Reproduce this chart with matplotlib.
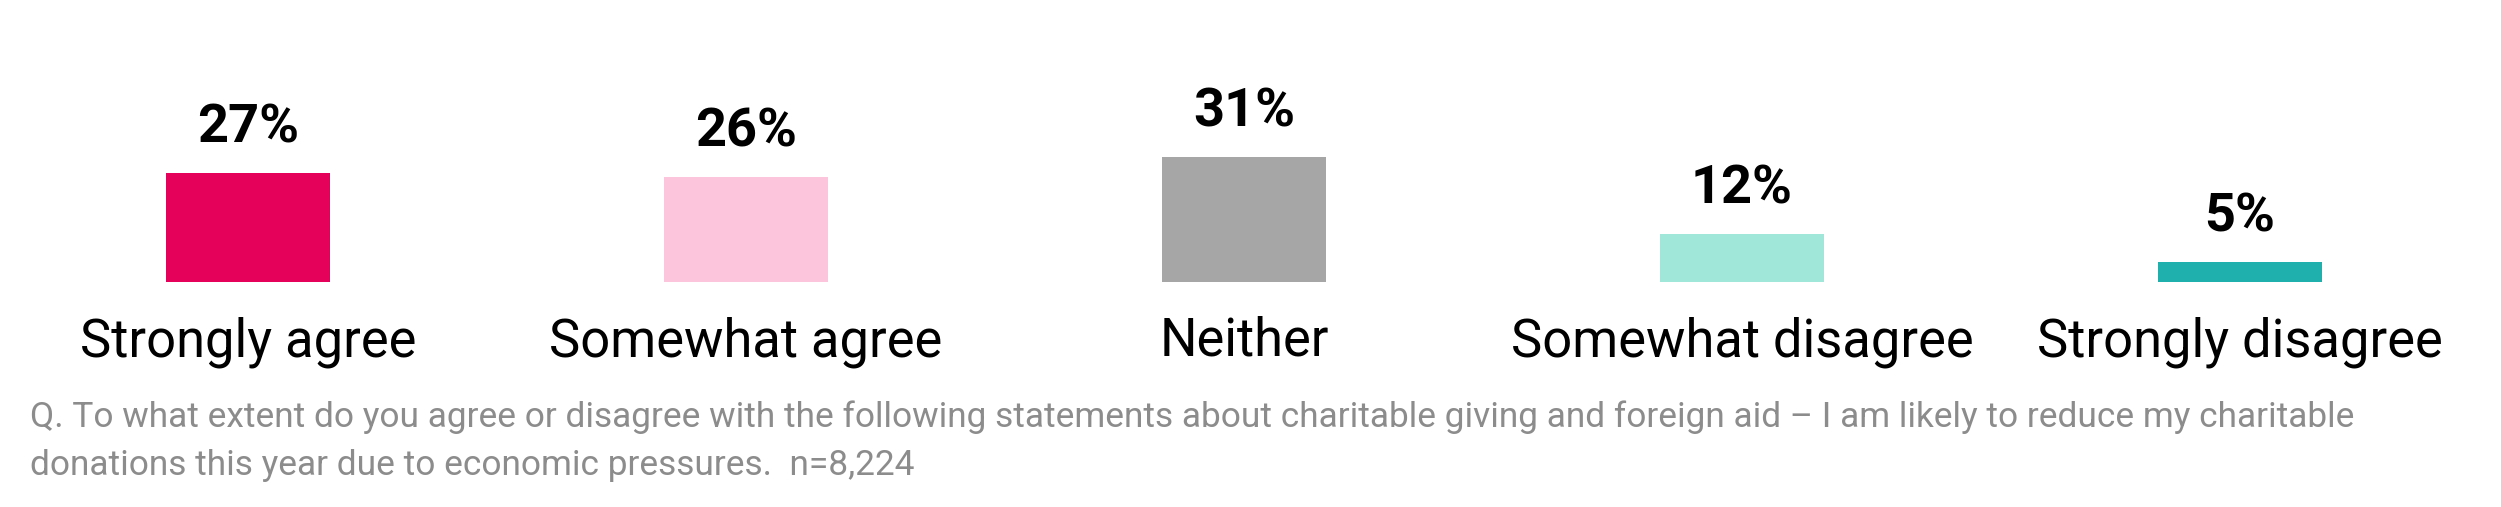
import matplotlib
matplotlib.use("Agg")
import matplotlib.pyplot as plt
import matplotlib.transforms as mtransforms

# Chart data
categories = ["Strongly agree", "Somewhat agree", "Neither", "Somewhat disagree", "Strongly disagree"]
values = [27, 26, 31, 12, 5]
colors = ["#E5005A", "#FDC5DB", "#A6A6A6", "#A0E6D9", "#1FB0AD"]
footnote_lines = [
    "Q. To what extent do you agree or disagree with the following statements about charitable giving and foreign aid \u2013 I am likely to reduce my charitable",
    "donations this year due to economic pressures.  n=8,224",
]

W, H, DPI = 2501, 507, 100
plt.rcParams['font.family'] = ['Roboto', 'DejaVu Sans']

fig = plt.figure(figsize=(W / DPI, H / DPI), dpi=DPI)
fig.patch.set_facecolor("white")

# axes: bar baseline at 282 px from top, ~4.03 px per percent
base_px = 282
ax = fig.add_axes([0, (H - base_px) / H, 1, base_px / H])
xs = list(range(len(categories)))
ax.bar(xs, values, width=0.331, color=colors)
ax.set_xlim(-0.498, 4.524)
ax.set_ylim(0, base_px / 4.03)
ax.axis("off")

# value labels above bars
for x, v in zip(xs, values):
    ax.annotate(f"{v}%", (x, v), xytext=(0, 22), textcoords="offset points",
                ha="center", va="baseline", fontsize=39, fontweight="bold", color="black")

# category labels under bars
trans = mtransforms.blended_transform_factory(ax.transData, fig.transFigure)
for x, c in zip(xs, categories):
    ax.text(x, (H - 356) / H, c, transform=trans, ha="center", va="baseline",
            fontsize=37.8, color="black")

# question footnote
for i, line in enumerate(footnote_lines):
    fig.text(30 / W, (H - 427 - 48 * i) / H, line, ha="left", va="baseline",
             fontsize=25.4, color="#8C8C8C")

fig.savefig("out.png", dpi=DPI, facecolor="white")
